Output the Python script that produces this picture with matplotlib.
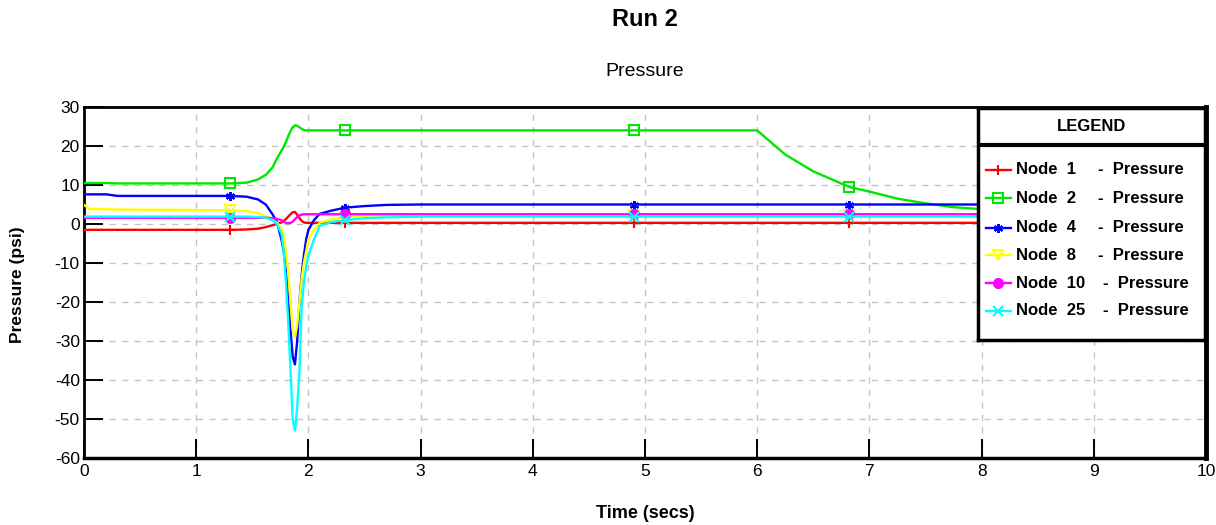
import matplotlib
matplotlib.use("Agg")
import matplotlib.pyplot as plt
from matplotlib.lines import Line2D

plt.rcParams["font.family"] = ["Liberation Sans Narrow", "Liberation Sans", "DejaVu Sans"]
plt.rcParams["axes.unicode_minus"] = False

# sample times (s), shared by all nodes
time_s = [0, 0.05, 0.2, 0.3, 1.0, 1.3,
          1.45, 1.55, 1.62, 1.68, 1.72,
          1.76, 1.78, 1.80, 1.82, 1.84,
          1.86, 1.88, 1.90, 1.92, 1.94,
          1.96, 1.98, 2.0, 2.05, 2.1,
          2.2, 2.33, 2.5, 2.7, 3.0,
          4.0, 4.9, 5.5, 6.0, 6.1,
          6.25, 6.5, 6.82, 7.0, 7.25,
          7.5, 7.75, 8.0, 8.5, 9.0,
          9.5, 10.0]

node1 = [-1.5, -1.5, -1.5, -1.5, -1.5, -1.5,
         -1.4, -1.2, -0.8, -0.3, 0.0,
         0.4, 0.8, 1.3, 1.9, 2.5,
         3.0, 3.1, 2.4, 1.5, 0.8,
         0.4, 0.3, 0.3, 0.3, 0.3,
         0.3, 0.3, 0.3, 0.3, 0.3,
         0.3, 0.3, 0.3, 0.3, 0.3,
         0.3, 0.3, 0.3, 0.3, 0.3,
         0.3, 0.3, 0.3, 0.3, 0.3,
         0.3, 0.3]

node2 = [10.5, 10.5, 10.5, 10.4, 10.4, 10.4,
         10.6, 11.4, 12.6, 14.5, 16.8,
         18.8, 19.8, 21.0, 22.5, 23.8,
         24.8, 25.3, 25.2, 24.8, 24.4,
         24.1, 24.0, 24.0, 24.0, 24.0,
         24.0, 24.0, 24.0, 24.0, 24.0,
         24.0, 24.0, 24.0, 24.0, 21.5,
         17.8, 13.5, 9.5, 8.3, 6.5,
         5.3, 4.3, 3.8, 3.3, 3.0,
         2.8, 2.7]

node4 = [7.6, 7.6, 7.6, 7.2, 7.2, 7.2,
         7.0, 6.3, 5.0, 2.5, 0.5,
         -4.0, -7.0, -12.0, -19.0, -27.0,
         -34.0, -36.0, -30.0, -20.0, -13.0,
         -8.0, -4.0, -1.5, 1.0, 2.6,
         3.4, 4.2, 4.6, 4.9, 5.0,
         5.0, 5.0, 5.0, 5.0, 5.0,
         5.0, 5.0, 5.0, 5.0, 5.0,
         5.0, 5.0, 5.0, 5.0, 5.0,
         5.0, 5.0]

node8 = [4.9, 3.8, 3.8, 3.7, 3.6, 3.5,
         3.3, 2.8, 2.0, 1.2, 0.3,
         -1.0, -3.0, -7.0, -12.0, -20.0,
         -27.0, -29.0, -26.0, -20.0, -14.0,
         -10.0, -7.0, -4.0, -1.5, 0.3,
         1.2, 1.8, 2.1, 2.2, 2.3,
         2.3, 2.3, 2.3, 2.3, 2.3,
         2.3, 2.3, 2.3, 2.3, 2.3,
         2.3, 2.3, 2.3, 2.3, 2.3,
         2.3, 2.3]

node10 = [1.6, 1.6, 1.6, 1.6, 1.6, 1.6,
          1.6, 1.6, 1.6, 1.5, 1.3,
          1.0, 0.6, 0.3, 0.2, 0.3,
          0.6, 1.2, 1.8, 2.2, 2.4,
          2.5, 2.5, 2.5, 2.5, 2.5,
          2.5, 2.5, 2.5, 2.5, 2.5,
          2.5, 2.5, 2.5, 2.5, 2.5,
          2.5, 2.5, 2.5, 2.5, 2.5,
          2.5, 2.5, 2.5, 2.5, 2.5,
          2.5, 2.5]

node25 = [1.9, 1.9, 1.9, 1.9, 1.9, 1.9,
          1.9, 1.8, 1.6, 1.0, 0.0,
          -2.5, -7.0, -15.0, -25.0, -37.0,
          -50.0, -53.0, -47.0, -38.0, -21.0,
          -15.0, -11.0, -8.0, -4.0, -0.5,
          0.5, 1.0, 1.5, 1.7, 1.9,
          1.9, 1.9, 1.9, 1.9, 1.9,
          1.9, 1.9, 1.9, 1.9, 1.9,
          1.9, 1.9, 1.9, 1.9, 1.9,
          1.9, 1.9]

node_ids = ["1", "2", "4", "8", "10", "25"]
series = [node1, node2, node4, node8, node10, node25]
colors = ["#ff0000", "#00e600", "#0000ff", "#ffff00", "#ff00ff", "#00ffff"]
markers = ["+", "s", (6, 2, 0), "v", "o", "x"]
hollow = [False, True, False, True, False, False]
mark_at = [5, 27, 32, 38]   # indices of the symbol positions

fig = plt.figure(figsize=(12.16, 5.25), dpi=100)
ax = fig.add_axes([84 / 1216, 1 - 458 / 525, 1122 / 1216, 351 / 525])

for vals, c, m, h in zip(series, colors, markers, hollow):
    ax.plot(time_s, vals, color=c, lw=1.7, marker=m, ms=6.5, mew=1.5,
            mfc="none" if h else c, markevery=mark_at, zorder=3)

ax.set_xlim(0, 10)
ax.set_ylim(-60, 30)
ax.set_xticks(range(0, 11))
ax.set_yticks(range(-60, 31, 10))
ax.grid(True, color="#c4c4c4", lw=1, linestyle=(0, (4.5, 4.5)))
ax.tick_params(direction="in", length=14, width=1.4, labelsize=12.5,
               colors="black", pad=4)
ax.tick_params(axis="y", pad=3)
for side, lw in (("left", 2), ("bottom", 2.5), ("top", 2), ("right", 3.5)):
    ax.spines[side].set_linewidth(lw)

fig.text(645 / 1216, 1 - 20 / 525, "Run 2", ha="center", va="center",
         fontsize=17, fontweight="bold")
fig.text(645 / 1216, 1 - 71 / 525, "Pressure", ha="center", va="center",
         fontsize=14)
fig.text(645 / 1216, 1 - 513 / 525, "Time (secs)", ha="center", va="center",
         fontsize=13, fontweight="bold")
fig.text(18 / 1216, 1 - 285 / 525, "Pressure (psi)", ha="center", va="center",
         rotation=90, fontsize=12.5, fontweight="bold",
         family=["Liberation Sans", "DejaVu Sans"])

# boxed legend with a header row
lg = fig.add_axes([978 / 1216, 1 - 340 / 525, 227 / 1216, 232 / 525], zorder=5)
lg.set_xlim(0, 1)
lg.set_ylim(0, 1)
lg.set_xticks([])
lg.set_yticks([])
for s in lg.spines.values():
    s.set_linewidth(2.5)
lg.axhline(0.84, color="black", lw=3)
lg.text(0.5, 0.919, "LEGEND", ha="center", va="center", fontsize=12,
        fontweight="bold")
rows_y = [0.733, 0.611, 0.484, 0.366, 0.244, 0.126]
for nid, c, m, h, y in zip(node_ids, colors, markers, hollow, rows_y):
    lg.add_line(Line2D([0.035, 0.09, 0.144], [y, y, y], color=c, lw=1.7,
                       marker=m, ms=6.5, mew=1.5, mfc="none" if h else c,
                       markevery=[1]))
    lg.text(0.167, y, f"Node  {nid}", ha="left", va="center", fontsize=12,
            fontweight="bold")
    dx = 0.529 if len(nid) == 1 else 0.551
    lg.text(dx, y, "-  Pressure", ha="left", va="center", fontsize=12,
            fontweight="bold")

fig.savefig("out.png", dpi=100)
